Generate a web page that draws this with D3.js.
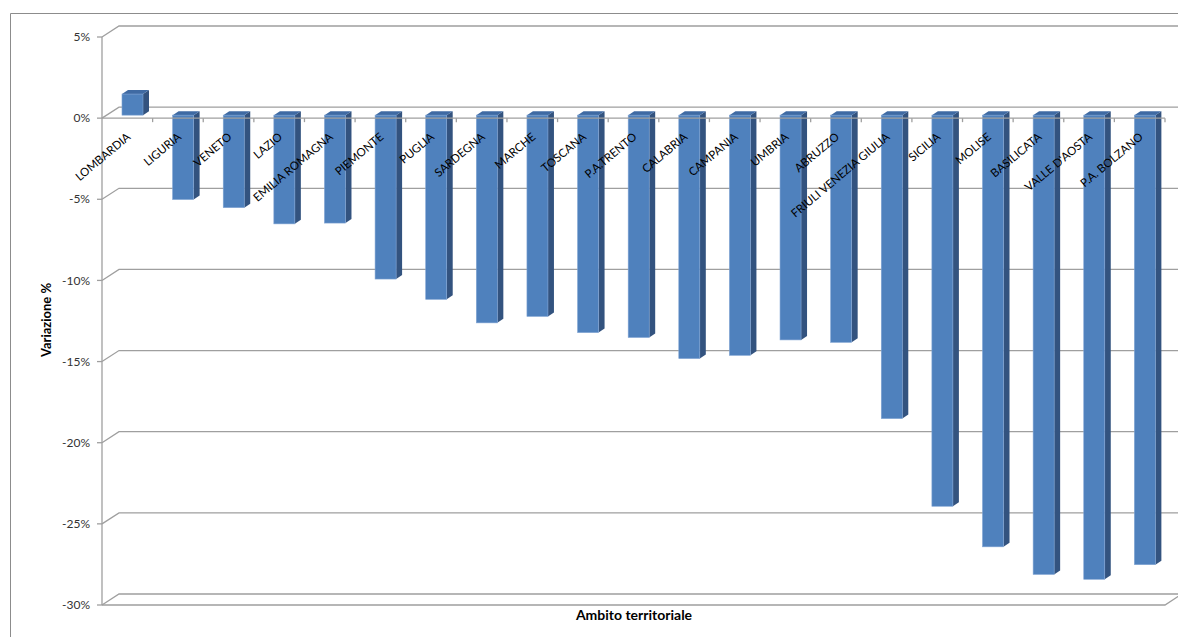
<!DOCTYPE html>
<html>
<head>
<meta charset="utf-8">
<script src="https://cdn.jsdelivr.net/npm/d3@7"></script>
<style>
  body { margin: 0; background: #fff; }
  text { font-family: Lato, "Open Sans", sans-serif; }
</style>
</head>
<body>
<div id="chart"></div>
<script>
// regioni e variazione %
var regioni = ["LOMBARDIA", "LIGURIA", "VENETO", "LAZIO", "EMILIA ROMAGNA", "PIEMONTE", "PUGLIA",
  "SARDEGNA", "MARCHE", "TOSCANA", "P.A.TRENTO", "CALABRIA", "CAMPANIA", "UMBRIA", "ABRUZZO",
  "FRIULI VENEZIA GIULIA", "SICILIA", "MOLISE", "BASILICATA", "VALLE D'AOSTA", "P.A. BOLZANO"];
var variazione = [1.3, -5.2, -5.7, -6.7, -6.65, -10.1, -11.35, -12.8, -12.4, -13.4, -13.7,
  -15.0, -14.8, -13.85, -14.0, -18.7, -24.1, -26.6, -28.3, -28.6, -27.7];
var yTicks = [5, 0, -5, -10, -15, -20, -25, -30];

var W = 1178, H = 637;
var svg = d3.select("#chart").append("svg").attr("width", W).attr("height", H);

// depth of the back wall
var dX = 17, dY = -11;

var x = d3.scaleBand().domain(regioni).range([102, 1165]).padding(0);
var y = d3.scaleLinear().domain([-30, 5]).range([605, 37]);

// outer border
svg.append("path").attr("d", "M10.5," + H + "V13.5H" + W)
  .attr("fill", "none").attr("stroke", "#8c8c8c");

var grid = svg.append("g").attr("stroke", "#9f9f9f").attr("fill", "none").attr("stroke-width", 1.3);

// back wall gridlines + left wall diagonals
yTicks.forEach(function(t){
  var yy = y(t);
  grid.append("path")
    .attr("d", "M102," + yy + "L" + (102 + dX) + "," + (yy + dY) + "H" + (1165 + dX));
});
// floor
grid.append("path")
  .attr("d", "M102," + y(-30) + "H1165L" + (1165 + dX) + "," + (y(-30) + dY));
// front value axis
grid.append("line").attr("x1", 102).attr("x2", 102).attr("y1", y(5)).attr("y2", y(-30));

// value ticks and labels
var yAx = svg.append("g");
yTicks.forEach(function(t){
  yAx.append("line").attr("x1", 97).attr("x2", 102).attr("y1", y(t)).attr("y2", y(t))
    .attr("stroke", "#9f9f9f").attr("stroke-width", 1.3);
  yAx.append("text").attr("x", 90).attr("y", y(t)).attr("dy", "0.35em")
    .attr("text-anchor", "end").attr("font-size", 12).attr("fill", "#333")
    .text(t + "%");
});

// bars
var bw = x.bandwidth();
var fw = bw * 0.415;
var sx = 6, sy = -4, off = -3;
var bars = svg.append("g");
regioni.forEach(function(r, i){
  var v = variazione[i];
  var x0 = x(r) + bw * 0.395, x1 = x0 + fw;
  var top = Math.min(y(v), y(0)) + off, bot = Math.max(y(v), y(0)) + off;
  var g = bars.append("g");
  // side
  g.append("path")
    .attr("d", "M" + x1 + "," + top + "L" + (x1 + sx) + "," + (top + sy) + "L" + (x1 + sx) + "," + (bot + sy) + "L" + x1 + "," + bot + "Z")
    .attr("fill", "#33537f");
  // top
  g.append("path")
    .attr("d", "M" + x0 + "," + top + "L" + (x0 + sx) + "," + (top + sy) + "L" + (x1 + sx) + "," + (top + sy) + "L" + x1 + "," + top + "Z")
    .attr("fill", "#3f6aa3");
  // front
  g.append("rect").attr("x", x0).attr("y", top).attr("width", fw).attr("height", bot - top)
    .attr("fill", "#4f81bd").attr("stroke", "#7fa3d3").attr("stroke-width", 0.6);
});

// category axis at 0
var xAx = svg.append("g");
xAx.append("line").attr("x1", 102).attr("x2", 1165).attr("y1", y(0)).attr("y2", y(0))
  .attr("stroke", "#9f9f9f").attr("stroke-width", 1.3);
regioni.forEach(function(r, i){
  var xt = x(r) + bw;
  xAx.append("line").attr("x1", xt).attr("x2", xt).attr("y1", y(0)).attr("y2", y(0) + 4)
    .attr("stroke", "#9f9f9f").attr("stroke-width", 1.3);
});
xAx.selectAll("text.cat").data(regioni).enter().append("text")
  .attr("class", "cat")
  .attr("transform", function(d){
    return "translate(" + (x(d) + bw / 2 + 4) + "," + (y(0) + 20) + ") rotate(-40)";
  })
  .attr("text-anchor", "end").attr("font-size", 11.5).attr("fill", "#000")
  .text(function(d){ return d; });

// axis titles
svg.append("text").attr("transform", "translate(51,320) rotate(-90)")
  .attr("text-anchor", "middle").attr("font-size", 13).attr("font-weight", "bold")
  .text("Variazione %");
svg.append("text").attr("x", 634).attr("y", 620)
  .attr("text-anchor", "middle").attr("font-size", 14).attr("font-weight", "bold")
  .text("Ambito territoriale");
</script>
</body>
</html>
